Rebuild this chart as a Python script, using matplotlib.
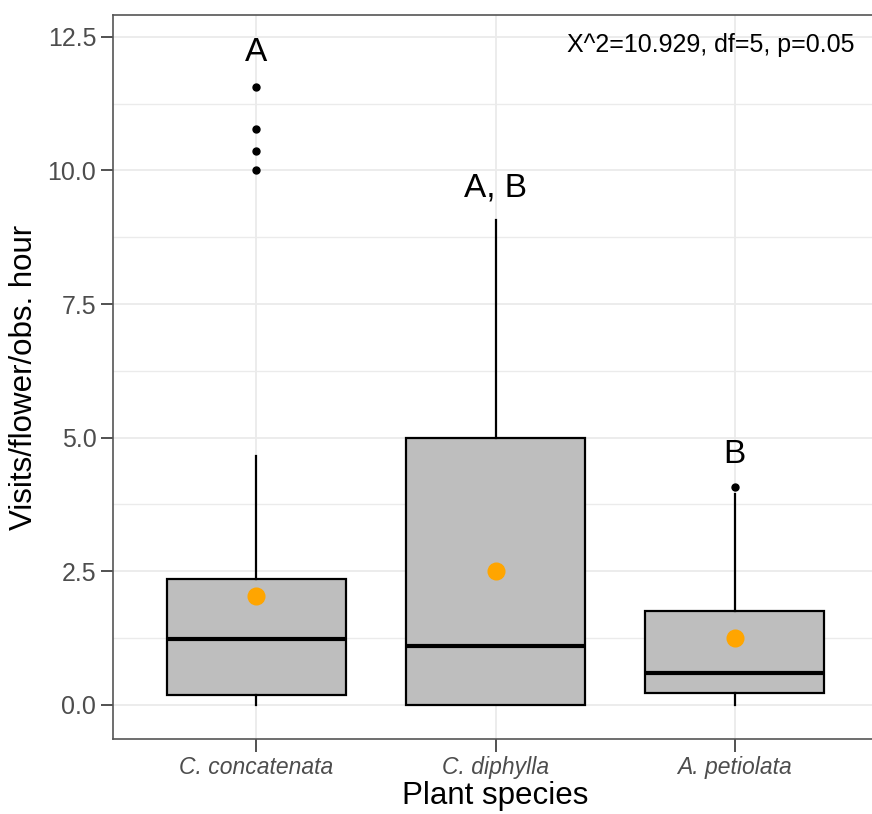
import matplotlib
matplotlib.use("Agg")
import matplotlib.pyplot as plt
from matplotlib.ticker import MultipleLocator

plt.rcParams['font.family'] = ['Liberation Sans', 'DejaVu Sans']

# box statistics
species = ["C. concatenata", "C. diphylla", "A. petiolata"]
q1 = [0.18, 0.0, 0.23]
med = [1.23, 1.10, 0.59]
q3 = [2.36, 5.0, 1.75]
whislo = [0.0, 0.0, 0.0]
whishi = [4.66, 9.08, 3.95]
outliers = [[10.0, 10.37, 10.77, 11.56], [], [4.07]]
means = [2.04, 2.51, 1.25]
letters = ["A", "A, B", "B"]
letter_y = [12.2, 9.67, 4.68]
stat_text = "X^2=10.929, df=5, p=0.05"

stats = []
for i in range(len(species)):
    stats.append(dict(label=species[i], q1=q1[i], med=med[i], q3=q3[i],
                      whislo=whislo[i], whishi=whishi[i], fliers=outliers[i]))

fig = plt.figure(figsize=(8.72, 8.14), dpi=100)
ax = fig.add_axes([113/872, 75/814, (878-113)/872, (739-15)/814])

pos = [1, 2, 3]
ax.bxp(stats, positions=pos, widths=0.75, patch_artist=True, showcaps=False,
       boxprops=dict(facecolor='#BEBEBE', edgecolor='black', linewidth=1.6),
       medianprops=dict(color='black', linewidth=3),
       whiskerprops=dict(color='black', linewidth=1.6),
       flierprops=dict(marker='o', markerfacecolor='black', markeredgecolor='black',
                       markersize=5, linestyle='none'), zorder=3)
ax.plot(pos, means, 'o', color='orange', markersize=12, zorder=4, linestyle='none')

for p, lab, ly in zip(pos, letters, letter_y):
    ax.text(p, ly, lab, ha='center', va='center', fontsize=24, color='black', zorder=5)
ax.text(3.5, 12.35, stat_text, ha='right', va='center', fontsize=18, color='black')

ax.set_xlim(0.4, 3.6)
ax.set_ylim(-0.64, 12.91)
ax.yaxis.set_major_locator(MultipleLocator(2.5))
ax.yaxis.set_minor_locator(MultipleLocator(1.25))
ax.set_yticks([0, 2.5, 5, 7.5, 10, 12.5])
ax.set_yticklabels(["0.0", "2.5", "5.0", "7.5", "10.0", "12.5"])
ax.set_xticks(pos)
ax.set_xticklabels(species, fontstyle='italic')

ax.grid(True, which='major', color='#EBEBEB', linewidth=1.3, zorder=0)
ax.grid(True, which='minor', axis='y', color='#EBEBEB', linewidth=1.0, zorder=0)
ax.set_axisbelow(True)
ax.tick_params(axis='y', which='major', labelsize=18, colors='#333333', labelcolor='#4D4D4D',
               length=9, width=1.2, pad=3)
ax.tick_params(axis='x', which='major', labelsize=16.5, colors='#333333', labelcolor='#4D4D4D',
               length=9, width=1.2, pad=3)
ax.tick_params(axis='y', which='minor', length=0)
for s in ax.spines.values():
    s.set_color('#555555')
    s.set_linewidth(1.2)

ax.set_xlabel("Plant species", fontsize=22.5, labelpad=2)
ax.set_ylabel("Visits/flower/obs. hour", fontsize=22.5, labelpad=6)

fig.savefig("out.png", dpi=100)
